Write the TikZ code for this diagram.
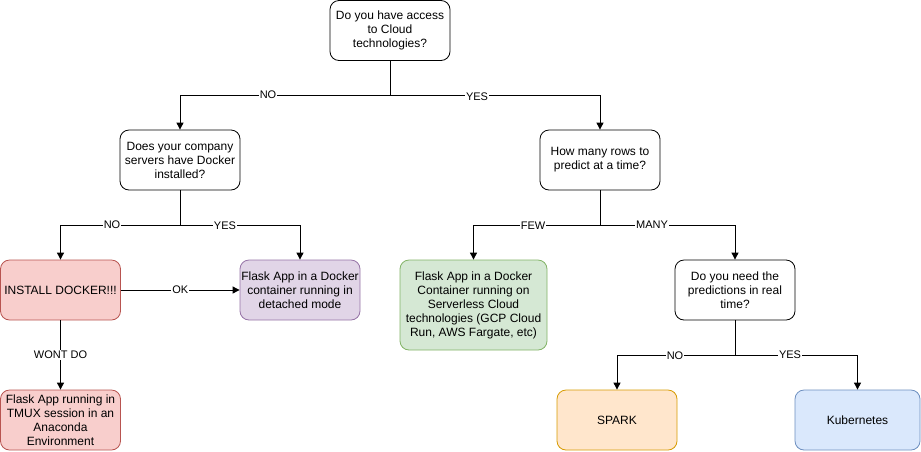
\documentclass[tikz,border=0pt]{standalone}
\usepackage{fontspec}
\setmainfont{Liberation Sans}
\usetikzlibrary{arrows.meta}
\definecolor{redF}{HTML}{F8CECC}\definecolor{redD}{HTML}{B85450}
\definecolor{purF}{HTML}{E1D5E7}\definecolor{purD}{HTML}{9673A6}
\definecolor{grnF}{HTML}{D5E8D4}\definecolor{grnD}{HTML}{82B366}
\definecolor{orgF}{HTML}{FFE6CC}\definecolor{orgD}{HTML}{D79B00}
\definecolor{bluF}{HTML}{DAE8FC}\definecolor{bluD}{HTML}{6C8EBF}
\tikzset{
  box/.style={draw=black, fill=white, rounded corners=9pt, line width=0.8pt,
    minimum width=120pt, minimum height=60pt, inner sep=1pt, align=center,
    font=\fontsize{12}{14}\selectfont},
  arr/.style={-{Triangle[length=7pt,width=7pt]}, line width=0.9pt},
  ln/.style={line width=0.9pt},
  lbl/.style={fill=white, inner sep=1pt, font=\fontsize{11}{13}\selectfont},
}
\begin{document}
\begin{tikzpicture}[x=1pt,y=-1pt]
\useasboundingbox (0,0) rectangle (921,451);
\node[box] (q1) at (390,30.5) {Do you have access\\to Cloud\\technologies?};
\node[box] (q2) at (180,160) {Does your company\\servers have Docker\\installed?};
\node[box] (q3) at (600,160) {How many rows to\\predict at a time?};
\node[box, fill=redF, draw=redD] (inst) at (60.5,290) {INSTALL DOCKER!!!};
\node[box, fill=purF, draw=purD] (dock) at (300,290) {Flask App in a Docker\\container running in\\detached mode};
\node[box, fill=redF, draw=redD] (tmux) at (60.5,420) {Flask App running in\\TMUX session in an\\Anaconda\\Environment};
\node[box, fill=grnF, draw=grnD, minimum width=147pt, minimum height=90pt] (serv) at (473.5,305) {Flask App in a Docker\\Container running on\\Serverless Cloud\\technologies (GCP Cloud\\Run, AWS Fargate, etc)};
\node[box] (q4) at (735,290) {Do you need the\\predictions in real\\time?};
\node[box, fill=orgF, draw=orgD] (spark) at (617,420) {SPARK};
\node[box, fill=bluF, draw=bluD, minimum width=125pt] (kub) at (857.5,420) {Kubernetes};

\coordinate (b1) at (390,95);
\coordinate (b2) at (180,225);
\coordinate (b3) at (600,225);
\coordinate (b4) at (735,355);

\draw[ln] (q1.south) -- (b1);
\draw[arr] (b1) -| (q2.north);
\draw[arr] (b1) -| (q3.north);
\node[lbl] at (268,95) {NO};
\node[lbl] at (477,97) {YES};

\draw[ln] (q2.south) -- (b2);
\draw[arr] (b2) -| (inst.north);
\draw[arr] (b2) -| (dock.north);
\node[lbl] at (112,225) {NO};
\node[lbl] at (225,226) {YES};

\draw[arr] (inst.east) -- node[lbl]{OK} (dock.west);
\draw[arr] (inst.south) -- node[lbl]{WONT DO} (tmux.north);

\draw[ln] (q3.south) -- (b3);
\draw[arr] (b3) -| (serv.north);
\draw[arr] (b3) -| (q4.north);
\node[lbl] at (533,226) {FEW};
\node[lbl] at (652,225) {MANY};

\draw[ln] (q4.south) -- (b4);
\draw[arr] (b4) -| (spark.north);
\draw[arr] (b4) -| (kub.north);
\node[lbl] at (675,356) {NO};
\node[lbl] at (790,355) {YES};
\end{tikzpicture}
\end{document}
